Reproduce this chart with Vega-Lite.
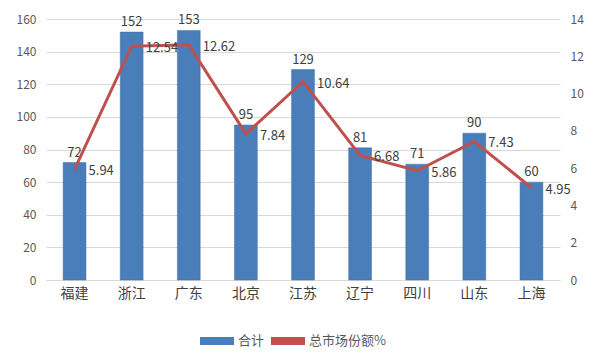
{
  "$schema": "https://vega.github.io/schema/vega-lite/v6.json",
  "autosize": "none",
  "width": 514,
  "height": 261,
  "padding": {"left": 46, "top": 19, "right": 40, "bottom": 80},
  "background": "white",
  "config": {
    "view": {"stroke": null},
    "font": "Noto Sans CJK SC",
    "axis": {"labelFont": "Noto Sans CJK SC", "labelColor": "#595959", "labelFontSize": 12, "titleColor": "#595959", "labelOverlap": false, "labelFlush": false},
    "legend": {"labelFont": "Noto Sans CJK SC", "labelColor": "#595959", "labelFontSize": 13}
  },
  "data": {
    "values": [
      {"region": "福建", "total": 72, "share": 5.94},
      {"region": "浙江", "total": 152, "share": 12.54},
      {"region": "广东", "total": 153, "share": 12.62},
      {"region": "北京", "total": 95, "share": 7.84},
      {"region": "江苏", "total": 129, "share": 10.64},
      {"region": "辽宁", "total": 81, "share": 6.68},
      {"region": "四川", "total": 71, "share": 5.86},
      {"region": "山东", "total": 90, "share": 7.43},
      {"region": "上海", "total": 60, "share": 4.95}
    ]
  },
  "encoding": {
    "x": {
      "field": "region", "type": "nominal", "sort": null,
      "scale": {"paddingInner": 0.6, "paddingOuter": 0.3},
      "axis": {"title": null, "labelAngle": 0, "labelFontSize": 14, "ticks": false, "domainColor": "#d9d9d9", "labelPadding": 6, "labelColor": "#404040"}
    }
  },
  "layer": [
    {
      "encoding": {
        "y": {
          "field": "total", "type": "quantitative",
          "scale": {"domain": [0, 160]},
          "axis": {"title": null, "values": [0,20,40,60,80,100,120,140,160], "tickCount": 20, "format": "d", "domain": false, "ticks": false, "gridColor": "#d9d9d9", "labelPadding": 10}
        }
      },
      "layer": [
        {
          "mark": {"type": "bar", "stroke": "#41719c", "strokeWidth": 0.5},
          "encoding": {
            "color": {
              "datum": "合计", "type": "nominal",
              "scale": {"domain": ["合计", "总市场份额%"], "range": ["#4a7ebb", "#c0504d"]},
              "legend": {
                "title": null, "orient": "none", "direction": "horizontal",
                "legendX": 154, "legendY": 305,
                "symbolSize": 1156, "columnPadding": 6, "labelOffset": 4,
                "symbolStrokeWidth": 0,
                "symbolType": "M-1,-0.24H1V0.24H-1Z",
                "encode": {
                  "symbols": {"update": {"shape": {"signal": "datum.value === '合计' ? 'M-1,-0.24H1V0.24H-1Z' : 'M-1,-0.09H1V0.09H-1Z'"}}}
                }
              }
            }
          }
        },
        {
          "mark": {"type": "text", "dy": -10, "fontSize": 13, "color": "#404040"},
          "encoding": {
            "text": {"field": "total", "type": "quantitative"}
          }
        }
      ]
    },
    {
      "encoding": {
        "y": {
          "field": "share", "type": "quantitative",
          "scale": {"domain": [0, 14]},
          "axis": {"title": null, "orient": "right", "values": [0,2,4,6,8,10,12,14], "tickCount": 20, "format": "d", "domain": false, "ticks": false, "grid": false, "labelPadding": 10}
        }
      },
      "layer": [
        {
          "mark": {"type": "line", "strokeWidth": 3},
          "encoding": {
            "color": {"datum": "总市场份额%", "type": "nominal"}
          }
        },
        {
          "mark": {"type": "text", "align": "left", "baseline": "middle", "dx": 14, "dy": 2, "fontSize": 13, "color": "#404040"},
          "encoding": {
            "text": {"field": "share", "type": "quantitative", "format": ".2f"}
          }
        }
      ]
    }
  ],
  "resolve": {"scale": {"y": "independent"}}
}
